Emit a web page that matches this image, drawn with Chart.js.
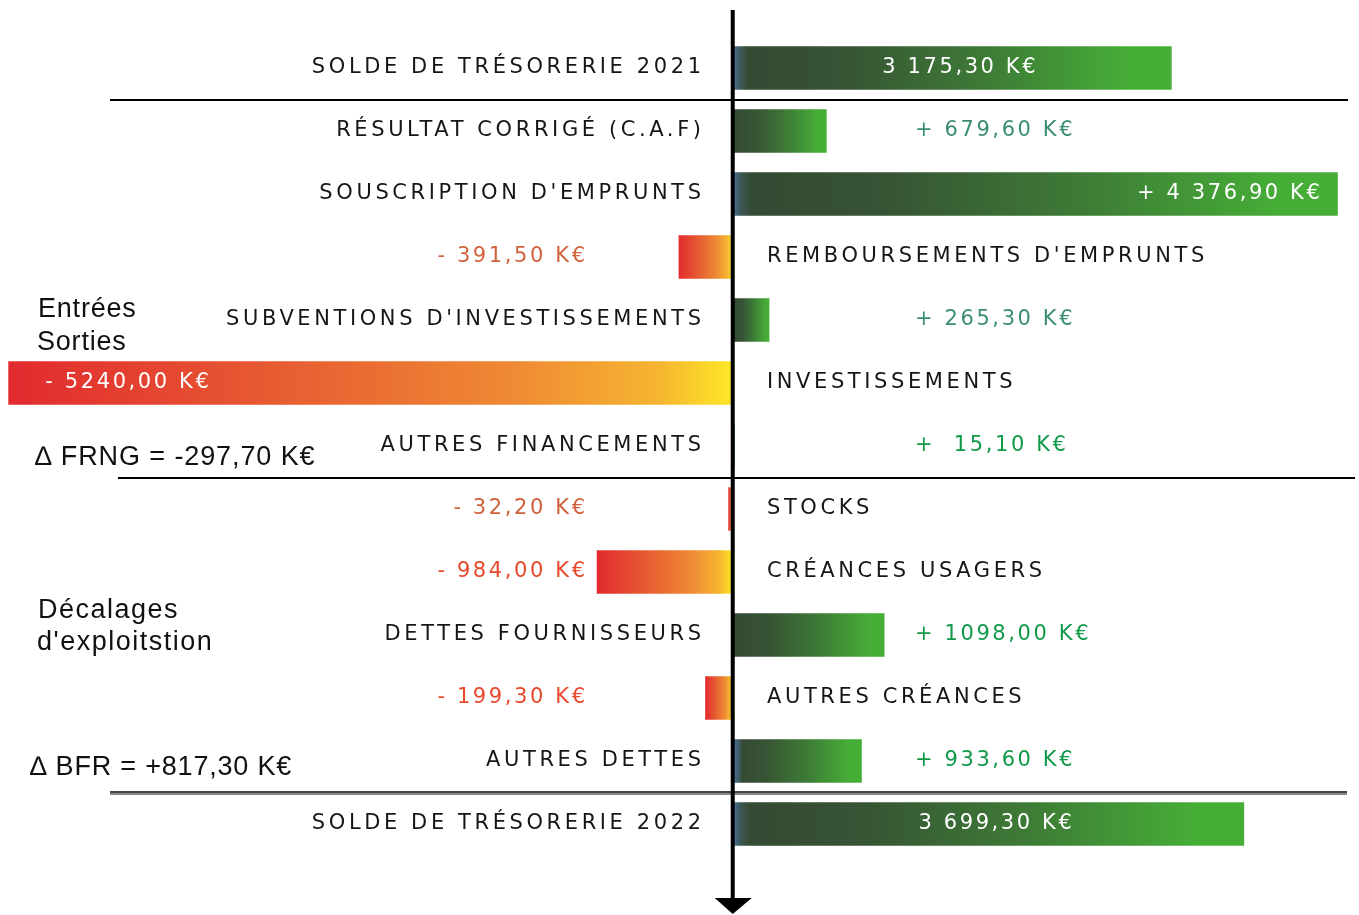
<!DOCTYPE html>
<html lang="fr">
<head>
<meta charset="utf-8">
<script src="https://cdn.jsdelivr.net/npm/chart.js@4.4.1/dist/chart.umd.min.js"></script>
<style>
  html, body { margin: 0; padding: 0; background: #ffffff; }
  #wrap { width: 1359px; height: 915px; position: relative; }
</style>
</head>
<body>
<div id="wrap"><canvas id="c" width="1359" height="915"></canvas></div>
<script>
// ---- Data ----
const categories = [
  "SOLDE DE TRÉSORERIE 2021",
  "RÉSULTAT CORRIGÉ (C.A.F)",
  "SOUSCRIPTION D'EMPRUNTS",
  "REMBOURSEMENTS D'EMPRUNTS",
  "SUBVENTIONS D'INVESTISSEMENTS",
  "INVESTISSEMENTS",
  "AUTRES FINANCEMENTS",
  "STOCKS",
  "CRÉANCES USAGERS",
  "DETTES FOURNISSEURS",
  "AUTRES CRÉANCES",
  "AUTRES DETTES",
  "SOLDE DE TRÉSORERIE 2022"
];
const values = [3175.30, 679.60, 4376.90, -391.50, 265.30, -5240.00, 15.10, -32.20, -984.00, 1098.00, -199.30, 933.60, 3699.30];
const valueLabels = [
  "3 175,30 K€", "+ 679,60 K€", "+ 4 376,90 K€", "- 391,50 K€", "+ 265,30 K€",
  "- 5240,00 K€", "+  15,10 K€", "- 32,20 K€", "- 984,00 K€", "+ 1098,00 K€",
  "- 199,30 K€", "+ 933,60 K€", "3 699,30 K€"
];
const sideNotes = ["Entrées", "Sorties", "∆ FRNG = -297,70 K€", "Décalages", "d'exploitstion", "∆ BFR = +817,30 K€"];

// ---- Styles (kept apart from data) ----
const labelPlacement = ["center", "out", "inEnd", "out", "out", "inStart", "out", "out", "out", "out", "out", "out", "center"];
const valueColors = ["#ffffff", "#3b8f70", "#ffffff", "#d2623c", "#3b8f70", "#ffffff", "#11994a", "#d0603a", "#e8492b", "#11994a", "#e8492b", "#11994a", "#ffffff"];
const blueEdge = [true, false, true, false, false, false, false, false, false, false, false, true, true];

function barGradient(context) {
  const chart = context.chart;
  const i = context.dataIndex;
  const v = values[i];
  const xs = chart.scales.x;
  if (!chart.chartArea || !xs) return v >= 0 ? '#3f8a36' : '#ea6a33';
  const x0 = xs.getPixelForValue(0), x1 = xs.getPixelForValue(v);
  const a = Math.min(x0, x1), b = Math.max(x0, x1);
  const w = Math.max(b - a, 1);
  const g = chart.ctx.createLinearGradient(a, 0, b, 0);
  if (v >= 0) {
    if (blueEdge[i]) {
      const e = Math.min(7 / w, 0.1);
      g.addColorStop(0, '#4a74a8');
      g.addColorStop(e, '#3d5a5a');
      g.addColorStop(Math.min(e + 0.02, 0.2), '#344a33');
    } else {
      g.addColorStop(0, '#344a33');
    }
    g.addColorStop(0.25, '#375334');
    g.addColorStop(0.6, '#3e7e36');
    g.addColorStop(0.9, '#46ad37');
    g.addColorStop(1, '#46ae37');
  } else {
    g.addColorStop(0, '#e22a2f');
    g.addColorStop(0.35, '#e65932');
    g.addColorStop(0.7, '#ef8a34');
    g.addColorStop(0.9, '#f6b531');
    g.addColorStop(1, '#fde826');
  }
  return g;
}

function drawText(ctx, text, x, y, align, font, color, spacing) {
  ctx.save();
  ctx.font = font;
  ctx.fillStyle = color;
  ctx.textBaseline = 'middle';
  try { ctx.letterSpacing = (spacing || 0) + 'px'; } catch (e) {}
  let w = ctx.measureText(text).width;
  let sx = x;
  if (align === 'right') sx = x - w + (spacing || 0);
  else if (align === 'center') sx = x - w / 2;
  ctx.textAlign = 'left';
  ctx.fillText(text, sx, y);
  ctx.restore();
}

const overlay = {
  id: 'overlay',
  afterDatasetsDraw(chart) {
    const ctx = chart.ctx;
    const xs = chart.scales.x, ys = chart.scales.y;
    const x0 = xs.getPixelForValue(0);
    const yAt = i => ys.getPixelForValue(i);
    const between = i => (yAt(i) + yAt(i + 1)) / 2;

    // separators
    ctx.save();
    ctx.fillStyle = '#000';
    ctx.fillRect(110, Math.round(between(0)) - 1, 1238, 2);
    ctx.fillRect(118, Math.round(between(6)) - 1, 1237, 2);
    ctx.fillStyle = '#444';
    ctx.fillRect(110, Math.round(between(11)) - 2, 1237, 2);
    ctx.fillStyle = '#888';
    ctx.fillRect(110, Math.round(between(11)), 1237, 2);
    ctx.restore();

    // vertical axis with arrow
    ctx.save();
    ctx.fillStyle = '#000';
    ctx.fillRect(x0 - 2, 10, 4, 890);
    ctx.beginPath();
    ctx.moveTo(x0 - 18, 898);
    ctx.lineTo(x0 + 19, 898);
    ctx.lineTo(x0, 914);
    ctx.closePath();
    ctx.fill();
    ctx.restore();

    const labelFont = '21px "DejaVu Sans", sans-serif';
    const valueFont = '21px "DejaVu Sans", sans-serif';

    categories.forEach((c, i) => {
      const y = yAt(i);
      const v = values[i];
      if (v >= 0) drawText(ctx, c, 701, y, 'right', labelFont, '#161616', 3.6);
      else drawText(ctx, c, 767, y, 'left', labelFont, '#161616', 3.6);

      const xe = xs.getPixelForValue(v);
      const p = labelPlacement[i];
      const col = valueColors[i];
      if (p === 'center') drawText(ctx, valueLabels[i], (x0 + xe) / 2 + 8, y, 'center', valueFont, col, 2.6);
      else if (p === 'inEnd') drawText(ctx, valueLabels[i], xe - 18, y, 'right', valueFont, col, 2.6);
      else if (p === 'inStart') drawText(ctx, valueLabels[i], xe + 37, y, 'left', valueFont, col, 2.6);
      else if (v >= 0) drawText(ctx, valueLabels[i], 915, y, 'left', valueFont, col, 2.6);
      else drawText(ctx, valueLabels[i], 585, y, 'right', valueFont, col, 2.6);
    });

    const noteFont = '27px "Liberation Sans", Arial, sans-serif';
    drawText(ctx, sideNotes[0], 38, 310, 'left', noteFont, '#111', 0.8);
    drawText(ctx, sideNotes[1], 37, 343, 'left', noteFont, '#111', 0.8);
    drawText(ctx, sideNotes[2], 35, 458, 'left', noteFont, '#111', 0.9);
    drawText(ctx, sideNotes[3], 38, 611, 'left', noteFont, '#111', 1.5);
    drawText(ctx, sideNotes[4], 37, 643, 'left', noteFont, '#111', 1.5);
    drawText(ctx, sideNotes[5], 30, 768, 'left', noteFont, '#111', 0.8);
  }
};

new Chart(document.getElementById('c'), {
  type: 'bar',
  data: {
    labels: categories,
    datasets: [{
      data: values,
      backgroundColor: barGradient,
      borderWidth: 0,
      barPercentage: 0.69,
      categoryPercentage: 1.0
    }]
  },
  options: {
    indexAxis: 'y',
    responsive: false,
    animation: false,
    devicePixelRatio: 1,
    layout: { padding: { top: 36.5, bottom: 59.5, left: 0, right: 0 } },
    scales: {
      x: { type: 'linear', min: -5300, max: 4530, display: false, grid: { display: false } },
      y: { type: 'category', display: false, grid: { display: false } }
    },
    plugins: { legend: { display: false }, tooltip: { enabled: false } }
  },
  plugins: [overlay]
});
</script>
</body>
</html>
